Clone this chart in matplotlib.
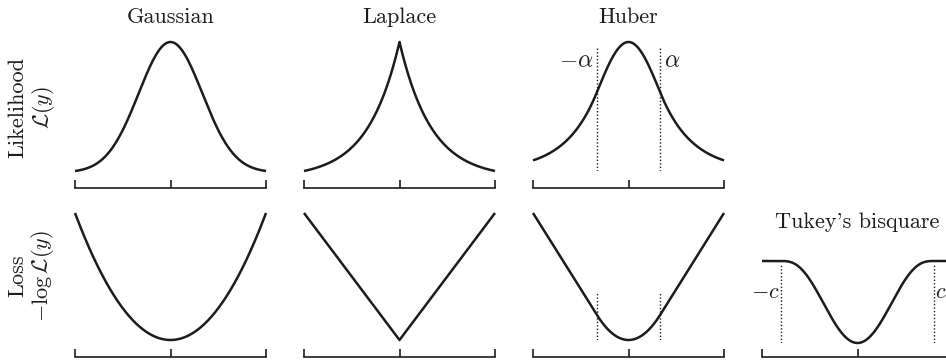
import matplotlib

matplotlib.use("Agg")
import matplotlib.pyplot as plt
import numpy as np

# Residual grid and robust-loss parameters
Y_LIM = 3.0
ALPHA = 1.0           # Huber threshold
C_TUKEY = 2.4         # Tukey bisquare cutoff
TICKS = [-Y_LIM, 0.0, Y_LIM]

TITLES_TOP = ["Gaussian", "Laplace", "Huber"]
TITLE_TUKEY = "Tukey's bisquare"
ROW_LABELS = [("Likelihood", r"$\mathcal{L}(y)$"), ("Loss", r"$-\log\mathcal{L}(y)$")]

# heights of the dotted threshold guides (data units)
HUBER_LIK_GUIDE = 0.95
HUBER_LOSS_GUIDE = 0.93
TUKEY_GUIDE_FRAC = 0.95

INK = "#1c1c1c"
LW = 1.8
FS = 16

plt.rcParams.update({
    "font.family": ["cmr10", "DejaVu Serif"],
    "mathtext.fontset": "cm",
    "axes.formatter.use_mathtext": True,
    "axes.linewidth": 1.2,
    "text.color": INK,
})

y = np.linspace(-Y_LIM, Y_LIM, 601)


def huber(r, a):
    r = np.abs(r)
    return np.where(r <= a, 0.5 * r ** 2, a * r - 0.5 * a ** 2)


def tukey(r, c):
    r = np.abs(r)
    inner = c ** 2 / 6.0 * (1.0 - (1.0 - (r / c) ** 2) ** 3)
    return np.where(r <= c, inner, c ** 2 / 6.0)


loss_gauss = 0.5 * y ** 2
loss_laplace = np.abs(y)
loss_huber = huber(y, ALPHA)
loss_tukey = tukey(y, C_TUKEY)

W, H = 946, 360
fig = plt.figure(figsize=(W / 100, H / 100), dpi=100)


def add_panel(x0, top, bottom, spine_gap):
    ax = fig.add_axes([x0 / W, 1 - bottom / H, 191 / W, (bottom - top) / H])
    for s in ("top", "right", "left"):
        ax.spines[s].set_visible(False)
    ax.spines["bottom"].set_position(("outward", spine_gap * 0.72))
    ax.spines["bottom"].set_color(INK)
    ax.set_xlim(-Y_LIM, Y_LIM)
    ax.set_xticks(TICKS)
    ax.set_xticklabels([])
    ax.set_yticks([])
    ax.tick_params(axis="x", direction="in", length=5.6, width=1.2, color=INK)
    ax.margins(0)
    return ax


def curve(ax, vals):
    ax.plot(y, vals, color=INK, lw=LW, clip_on=False, solid_capstyle="butt")
    ax.set_ylim(vals.min(), vals.max())


cols_x = [75, 304, 533, 762]

# likelihood row
lik = [np.exp(-loss_gauss), np.exp(-loss_laplace), np.exp(-loss_huber)]
for i, (vals, title) in enumerate(zip(lik, TITLES_TOP)):
    ax = add_panel(cols_x[i], 42, 171, 17)
    curve(ax, vals)
    ax.set_title(title, fontsize=FS, pad=14, color=INK)
    if i == 2:
        ax.vlines([-ALPHA, ALPHA], 0, HUBER_LIK_GUIDE, colors=INK,
                  linestyles=(0, (1, 1.5)), lw=1.0)
        ax.set_ylim(0, vals.max())
        ax.text(-ALPHA - 0.1, 0.85, r"$-\alpha$", ha="right", va="center", fontsize=17)
        ax.text(ALPHA + 0.1, 0.85, r"$\alpha$", ha="left", va="center", fontsize=17)

# loss row
for i, vals in enumerate([loss_gauss, loss_laplace, loss_huber]):
    ax = add_panel(cols_x[i], 213, 340, 17)
    curve(ax, vals)
    if i == 2:
        ax.vlines([-ALPHA, ALPHA], 0, HUBER_LOSS_GUIDE, colors=INK,
                  linestyles=(0, (1, 1.5)), lw=1.0)

ax = add_panel(cols_x[3], 261, 343, 14)
curve(ax, loss_tukey)
plateau = loss_tukey.max()
ax.vlines([-C_TUKEY, C_TUKEY], 0, TUKEY_GUIDE_FRAC * plateau, colors=INK,
          linestyles=(0, (1, 1.5)), lw=1.0)
ax.text(-C_TUKEY - 0.05, 0.62 * plateau, r"$-c$", ha="right", va="center", fontsize=FS)
ax.text(C_TUKEY + 0.05, 0.62 * plateau, r"$c$", ha="left", va="center", fontsize=FS)
ax.set_title(TITLE_TUKEY, fontsize=FS, pad=24, color=INK)

# row labels
for (name, expr), yc in zip(ROW_LABELS, [107, 276]):
    fig.text(18 / W, 1 - yc / H, name, rotation=90, ha="center", va="center", fontsize=FS)
    fig.text(43 / W, 1 - yc / H, expr, rotation=90, ha="center", va="center", fontsize=FS)

fig.savefig("out.png", dpi=100)
